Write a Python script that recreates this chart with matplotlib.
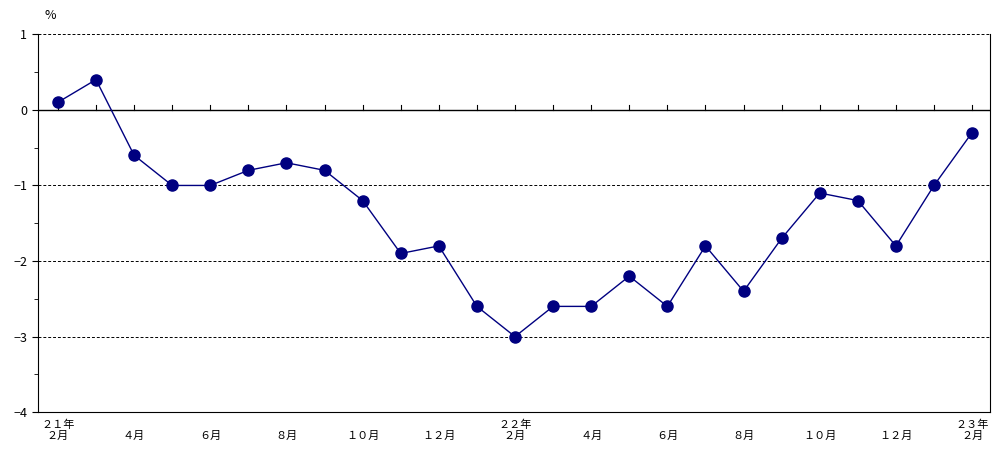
import matplotlib.pyplot as plt
import numpy as np

plt.rcParams['font.family'] = ['Noto Sans CJK JP', 'DejaVu Sans']

values = [0.1, 0.4, -0.6, -1.0, -1.0, -0.8, -0.7, -0.8, -1.2, -1.9, -1.8, -2.6,
          -3.0, -2.6, -2.6, -2.2, -2.6, -1.8, -2.4, -1.7, -1.1, -1.2, -1.8, -1.0, -0.3]
months = [2, 3, 4, 5, 6, 7, 8, 9, 10, 11, 12, 1, 2, 3, 4, 5, 6, 7, 8, 9, 10, 11, 12, 1, 2]
year_marks = {0: "２１年", 12: "２２年", 24: "２３年"}

fw = str.maketrans("0123456789", "０１２３４５６７８９")

fig = plt.figure(figsize=(9.92, 4.57), dpi=100)
ax = fig.add_axes([0.038, 0.098, 0.96, 0.827])

x = np.arange(len(values))
ax.plot(x, values, color="#000080", lw=1, marker="o", ms=8,
        markerfacecolor="#000080", markeredgecolor="#000080", zorder=3)

ax.set_xlim(-0.53, 24.47)
ax.set_ylim(-4, 1)
ax.set_yticks([1, 0, -1, -2, -3, -4])
ax.set_yticks(np.arange(-4, 1.01, 0.5), minor=True)
ax.tick_params(axis="y", labelsize=9, length=4, width=0.8)
ax.tick_params(axis="y", which="minor", length=3)
for v in [1, -1, -2, -3]:
    ax.axhline(v, color="black", ls="--", lw=0.7, dashes=(3, 2))
ax.axhline(0, color="black", lw=1)
for xi in x:
    ax.plot([xi, xi], [0, 0.07], color="black", lw=0.8)

ax.set_xticks([])
for xi, m in zip(x, months):
    if xi % 2 == 0:
        ax.text(xi, -4.25, f"{str(m).translate(fw)}月", ha="center", va="top", fontsize=8)
    if xi in year_marks:
        ax.text(xi, -4.1, year_marks[xi], ha="center", va="top", fontsize=8)

for s in ax.spines.values():
    s.set_linewidth(0.8)
ax.spines["top"].set_visible(False)
ax.text(0.013, 1.04, "%", transform=ax.transAxes, fontsize=9, ha="center")

fig.savefig("out.png")
